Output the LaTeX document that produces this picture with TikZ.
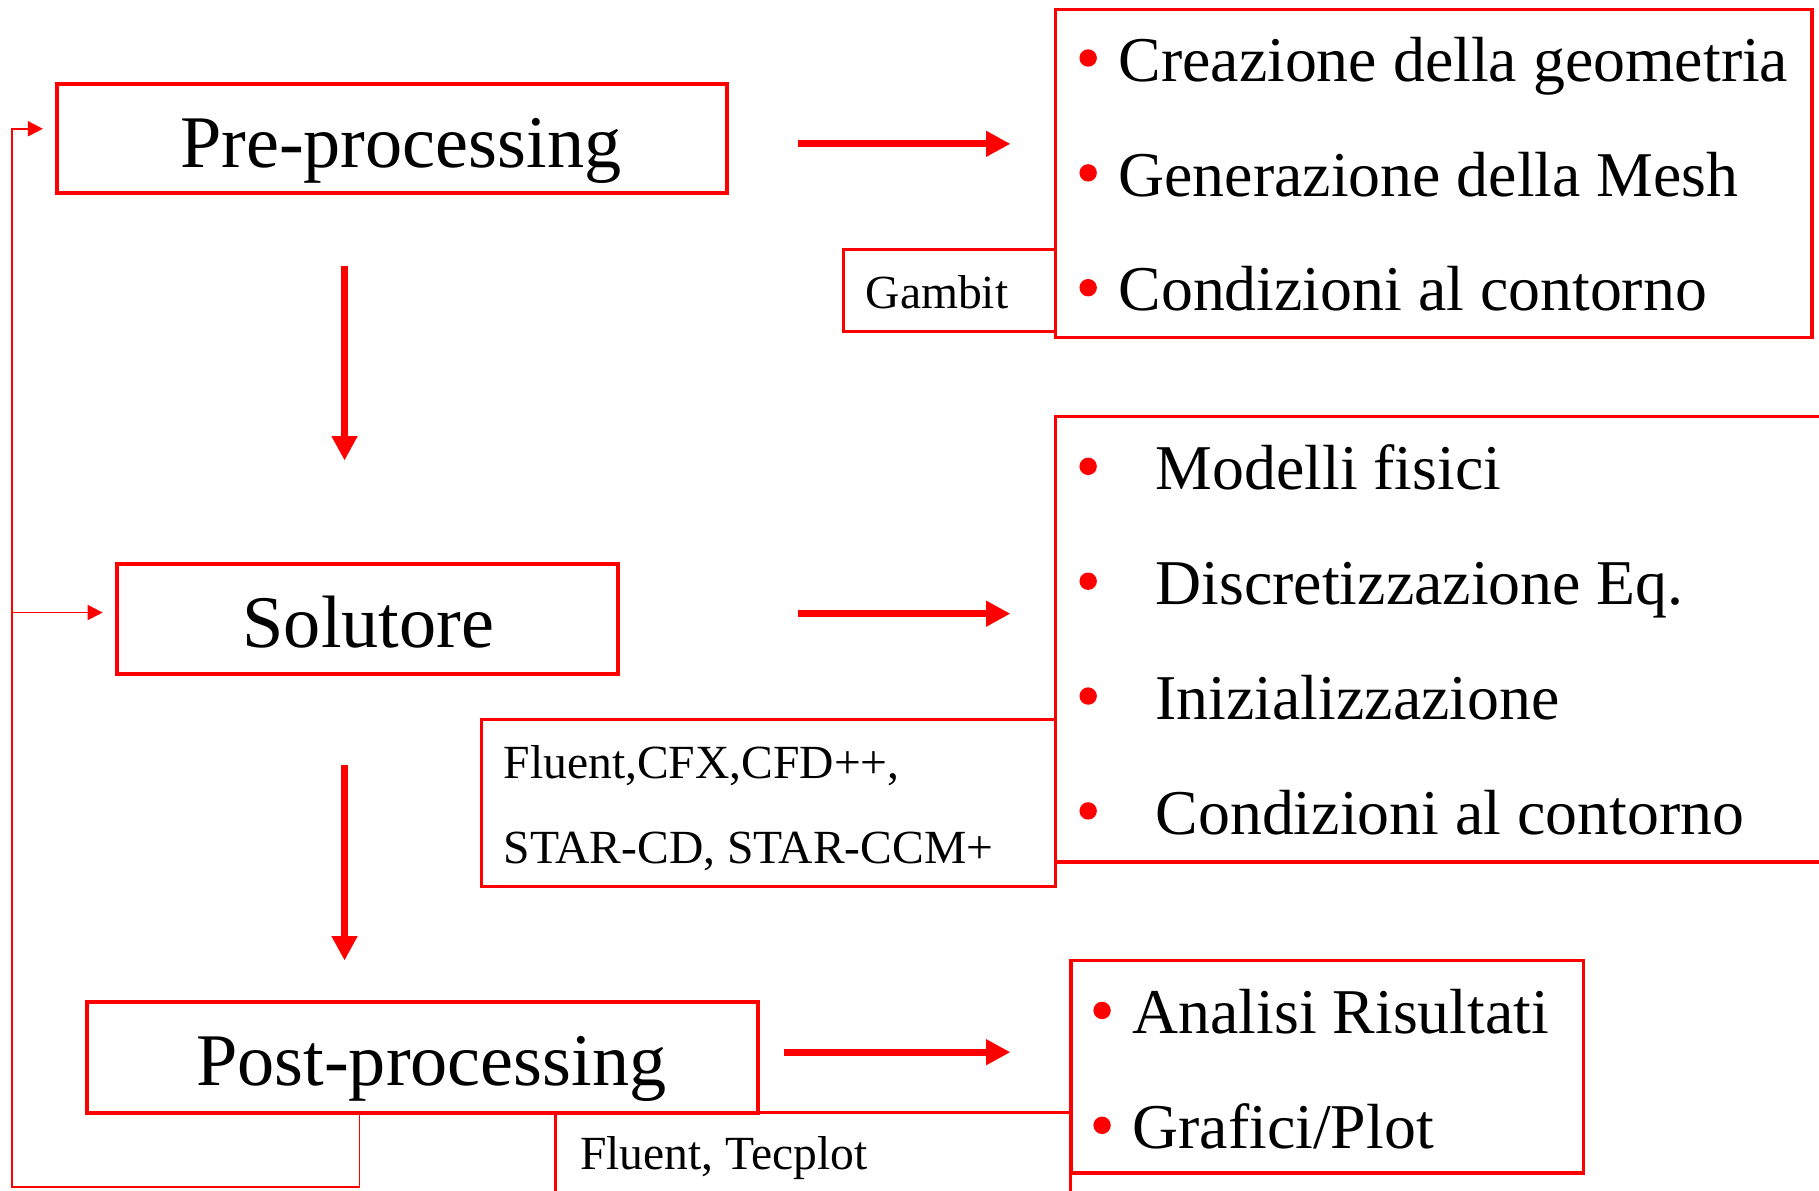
\documentclass[tikz,border=0pt]{standalone}
\usepackage{fontspec}
\setmainfont{Liberation Serif}
\usetikzlibrary{arrows.meta}
\definecolor{pptred}{RGB}{255,0,0}
\newcommand\fbig{\fontsize{64}{70}\selectfont}
\newcommand\fmid{\fontsize{55}{60}\selectfont}
\newcommand\fsml{\fontsize{41}{46}\selectfont}
\begin{document}
\begin{tikzpicture}[x=1pt,y=-1pt,
  mainbox/.style={draw=pptred, line width=3.5pt, inner sep=0pt},
  listbox/.style={draw=pptred, line width=3pt, inner sep=0pt},
  toolbox/.style={draw=pptred, line width=2.8pt, inner sep=0pt},
  txt/.style={anchor=base west, inner sep=0pt},
  dot/.style={circle, fill=pptred, inner sep=0pt, minimum size=15pt},
  bigarrow/.style={draw=pptred, line width=6pt, -{Triangle[length=21pt,width=21pt]}},
  loopline/.style={draw=pptred, line width=1.5pt},
  looparrow/.style={loopline, -{Triangle[length=13pt,width=13pt]}}]
\useasboundingbox (0,0) rectangle (1568,1026);
\fill[white] (0,0) rectangle (1568,1026);

% main boxes
\node[mainbox, minimum width=578pt, minimum height=94pt] (pre) at (338,119) {};
\node[mainbox, minimum width=432pt, minimum height=95pt] (sol) at (317,533.5) {};
\node[mainbox, minimum width=578pt, minimum height=95pt] (post) at (364,911.5) {};

% list boxes
\node[listbox, minimum width=652pt, minimum height=283pt] (geo) at (1236,149.5) {};
\node[listbox, minimum width=670pt, minimum height=384pt] (sim) at (1245,551) {};
\node[listbox, minimum width=442pt, minimum height=183pt] (res) at (1144,919.5) {};

% tool boxes
\node[toolbox, minimum width=183pt, minimum height=71pt] (gambit) at (818.5,250.5) {};
\node[toolbox, minimum width=495pt, minimum height=144pt] (tools) at (662.5,692) {};
\node[toolbox, minimum width=444pt, minimum height=86pt] (tec) at (701,1002) {};

% main texts
\node[txt, font=\fbig] (pretxt) at (155,144) {Pre-processing};
\node[txt, font=\fbig] (soltxt) at (209,558) {Solutore};
\node[txt, font=\fbig] (posttxt) at (169,936) {Post-processing};

% list texts
\node[txt, font=\fmid] (g1) at (964,70) {Creazione della geometria};
\node[txt, font=\fmid] (g2) at (964,169) {Generazione della Mesh};
\node[txt, font=\fmid] (g3) at (964,268) {Condizioni al contorno};
\node[txt, font=\fmid] (s1) at (996,422) {Modelli fisici};
\node[txt, font=\fmid] (s2) at (996,521) {Discretizzazione Eq.};
\node[txt, font=\fmid] (s3) at (996,620) {Inizializzazione};
\node[txt, font=\fmid] (s4) at (996,719) {Condizioni al contorno};
\node[txt, font=\fmid] (r1) at (976,891) {Analisi Risultati};
\node[txt, font=\fmid] (r2) at (976,990) {Grafici/Plot};

% bullets
\node[dot] (bg1) at (938,50) {};
\node[dot] (bg2) at (938,149) {};
\node[dot] (bg3) at (938,248) {};
\node[dot] (bs1) at (938,402) {};
\node[dot] (bs2) at (938,501) {};
\node[dot] (bs3) at (938,600) {};
\node[dot] (bs4) at (938,699) {};
\node[dot] (br1) at (950,871) {};
\node[dot] (br2) at (950,970) {};

% tool texts
\node[txt, font=\fsml] (gambittxt) at (746,266) {Gambit};
\node[txt, font=\fsml] (tools1) at (434,671) {Fluent,CFX,CFD++,};
\node[txt, font=\fsml] (tools2) at (434,744) {STAR-CD, STAR-CCM+};
\node[txt, font=\fsml] (tectxt) at (500,1008) {Fluent, Tecplot};

% arrow end points
\coordinate (a1s) at (688,124);  \coordinate (a1e) at (871,124);
\coordinate (a2s) at (688,529);  \coordinate (a2e) at (871,529);
\coordinate (a3s) at (676,907);  \coordinate (a3e) at (871,907);
\coordinate (d1s) at (297,229);  \coordinate (d1e) at (297,397);
\coordinate (d2s) at (297,659);  \coordinate (d2e) at (297,828);

\draw[bigarrow] (a1s) -- (a1e);
\draw[bigarrow] (a2s) -- (a2e);
\draw[bigarrow] (a3s) -- (a3e);
\draw[bigarrow] (d1s) -- (d1e);
\draw[bigarrow] (d2s) -- (d2e);

% feedback loop
\coordinate (loopstart) at (310,959);
\coordinate (loopbl) at (10.5,1023);
\coordinate (looptop) at (10.5,111);
\coordinate (loopmid) at (10.5,528);
\coordinate (prein) at (37,111);
\coordinate (solin) at (88.5,528);
\draw[looparrow] (loopstart) -- (loopstart |- loopbl) -- (loopbl) -- (looptop) -- (prein);
\draw[looparrow] (loopmid) -- (solin);
\end{tikzpicture}
\end{document}
